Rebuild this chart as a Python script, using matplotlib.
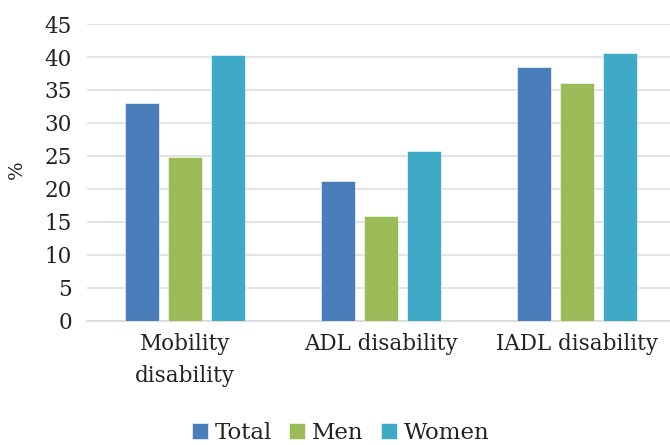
import numpy as np
import matplotlib
matplotlib.use("Agg")
import matplotlib.pyplot as plt

# data
categories = ["Mobility\ndisability", "ADL disability", "IADL disability"]
total = [33.1, 21.2, 38.5]
men = [24.8, 15.9, 36.0]
women = [40.3, 25.8, 40.6]
series_names = ["Total", "Men", "Women"]
colors = ["#4a7ebb", "#9bbb59", "#3faac6"]

plt.rcParams["font.family"] = ["DejaVu Serif"]

fig = plt.figure(figsize=(6.7, 4.45), dpi=100)
ax = fig.add_axes([0.130, 0.279, 0.878, 0.667])

x = np.arange(len(categories))
width = 0.173
offset = 0.219
for i, (vals, name, col) in enumerate(zip([total, men, women], series_names, colors)):
    ax.bar(x + (i - 1) * offset, vals, width, color=col, label=name,
           edgecolor="white", linewidth=0.4, zorder=3)

ax.set_xlim(-0.5, len(categories) - 0.5)
ax.set_ylim(0, 45)
ax.set_yticks(range(0, 46, 5))
ax.tick_params(axis="y", length=0, labelsize=15.5, pad=11, labelcolor="#222222")
ax.tick_params(axis="x", length=0, labelsize=15.5, pad=9, labelcolor="#222222")
ax.set_xticks(x)
ax.set_xticklabels(categories, linespacing=1.58)
ax.grid(axis="y", color="#dcdcdc", linewidth=1.1, zorder=0)
for side in ["top", "right", "left"]:
    ax.spines[side].set_visible(False)
ax.spines["bottom"].set_color("#d9d9d9")
ax.spines["bottom"].set_linewidth(1.2)

fig.text(0.025, 0.618, "%", rotation=90, fontsize=14, va="center", ha="center",
         color="#222222")

fig.legend(loc="lower center", bbox_to_anchor=(0.508, -0.045), ncol=3, frameon=False,
           fontsize=16.5, handlelength=0.7, handleheight=0.7, handletextpad=0.3,
           columnspacing=0.75, labelcolor="#222222")

fig.savefig("out.png", dpi=100)
